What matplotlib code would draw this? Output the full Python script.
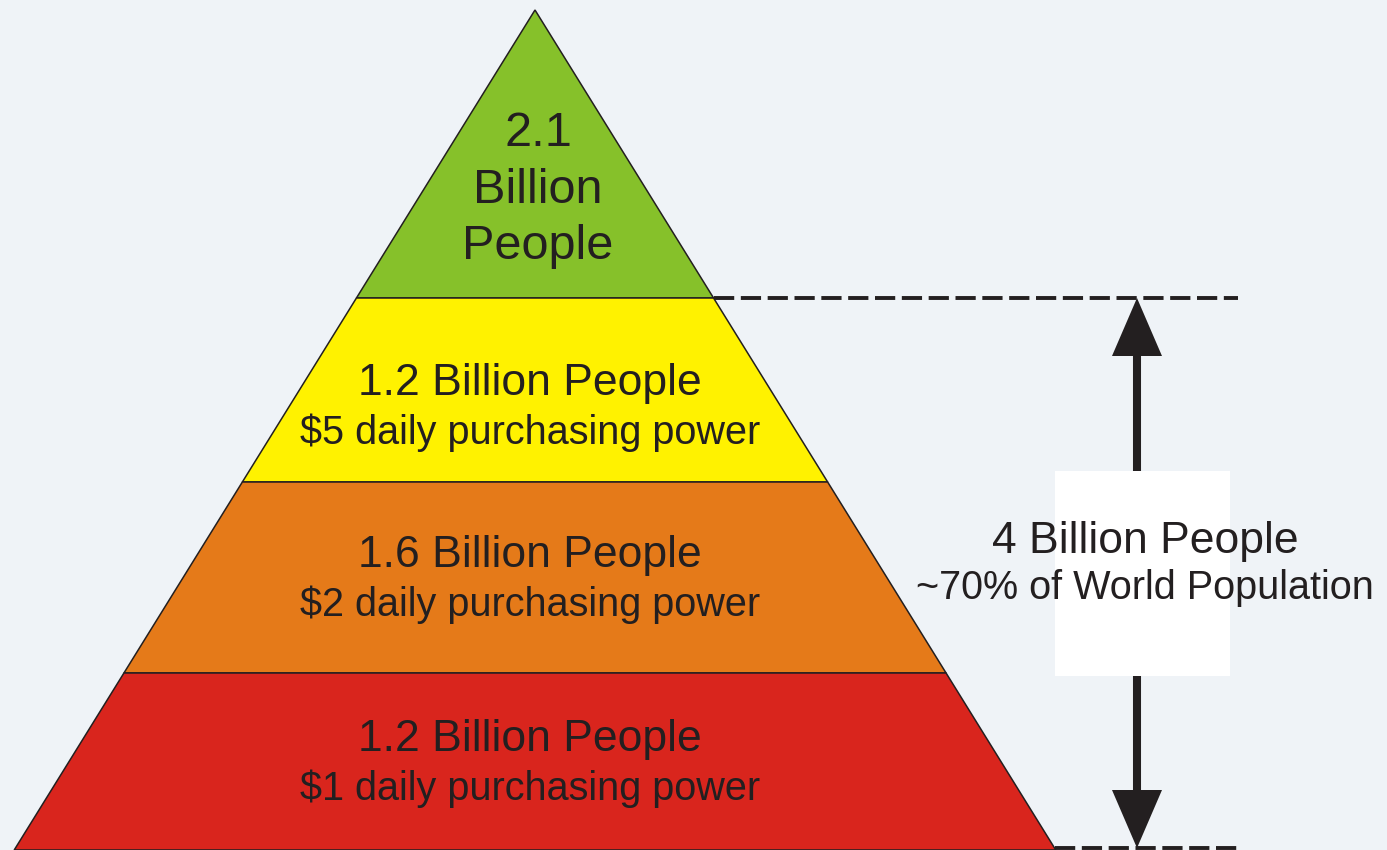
import matplotlib.pyplot as plt
from matplotlib.patches import Polygon, Rectangle

# pyramid tiers, top to bottom
populations = ["2.1\nBillion\nPeople", "1.2 Billion People", "1.6 Billion People", "1.2 Billion People"]
purchasing = [None, "$5 daily purchasing power", "$2 daily purchasing power", "$1 daily purchasing power"]
colors = ["#86C12A", "#FFF200", "#E57A19", "#D9251D"]
total_label = "4 Billion People"
share_label = "~70% of World Population"

BG = "#EFF3F7"
INK = "#231F20"

# geometry (pixel space)
apex = (535, 10)
half_slope = 0.62          # dx per dy on each side
levels = [10, 298, 482, 673, 850]


def x_at(y, side):
    return apex[0] + side * half_slope * (y - apex[1])


fig = plt.figure(figsize=(13.87, 8.5), dpi=100)
fig.patch.set_facecolor(BG)
ax = fig.add_axes([0, 0, 1, 1])
ax.set_xlim(0, 1387)
ax.set_ylim(850, 0)
ax.axis("off")

for i, c in enumerate(colors):
    y0, y1 = levels[i], levels[i + 1]
    pts = [(x_at(y0, -1), y0), (x_at(y0, 1), y0), (x_at(y1, 1), y1), (x_at(y1, -1), y1)]
    ax.add_patch(Polygon(pts, closed=True, facecolor=c, edgecolor=INK, lw=1.1, zorder=2))

# tier text
ax.text(538, 190, populations[0], ha="center", va="center", fontsize=35,
        family="Liberation Sans", color=INK, linespacing=1.34, zorder=4)
text_y = [(383, 433), (556, 605), (740, 789)]
for i in range(1, 4):
    ya, yb = text_y[i - 1]
    ax.text(530, ya, populations[i], ha="center", va="center", fontsize=32,
            family="Liberation Sans", color=INK, zorder=4)
    ax.text(530, yb, purchasing[i], ha="center", va="center", fontsize=28.5,
            family="Liberation Sans", color=INK, zorder=4)

# dashed guides
ax.plot([x_at(levels[1], 1), 1238], [levels[1], levels[1]], color=INK, lw=2.8,
        dashes=(5.2, 1.7), zorder=3, solid_capstyle="butt", dash_capstyle="butt")
ax.plot([x_at(848, 1), 1238], [848, 848], color=INK, lw=2.8,
        dashes=(5.2, 1.7), zorder=3, solid_capstyle="butt", dash_capstyle="butt")

# double arrow: shaft plus two triangular heads
ax_x, top, bot = 1137, levels[1], 848
head_h, head_w = 58, 25
ax.plot([ax_x, ax_x], [top + head_h - 2, bot - head_h + 2], color=INK, lw=5.8,
        solid_capstyle="butt", zorder=3)
ax.add_patch(Polygon([(ax_x, top), (ax_x - head_w, top + head_h), (ax_x + head_w, top + head_h)],
                     closed=True, facecolor=INK, edgecolor="none", zorder=3))
ax.add_patch(Polygon([(ax_x, bot), (ax_x - head_w, bot - head_h), (ax_x + head_w, bot - head_h)],
                     closed=True, facecolor=INK, edgecolor="none", zorder=3))

# label box
ax.add_patch(Rectangle((1055, 471), 175, 205, facecolor="white", edgecolor="none", zorder=4))
ax.text(1145, 541, total_label, ha="center", va="center", fontsize=32,
        family="Liberation Sans", color=INK, zorder=5)
ax.text(1145, 588, share_label, ha="center", va="center", fontsize=28.5,
        family="Liberation Sans", color=INK, zorder=5)

fig.savefig("out.png", dpi=100, facecolor=BG)
